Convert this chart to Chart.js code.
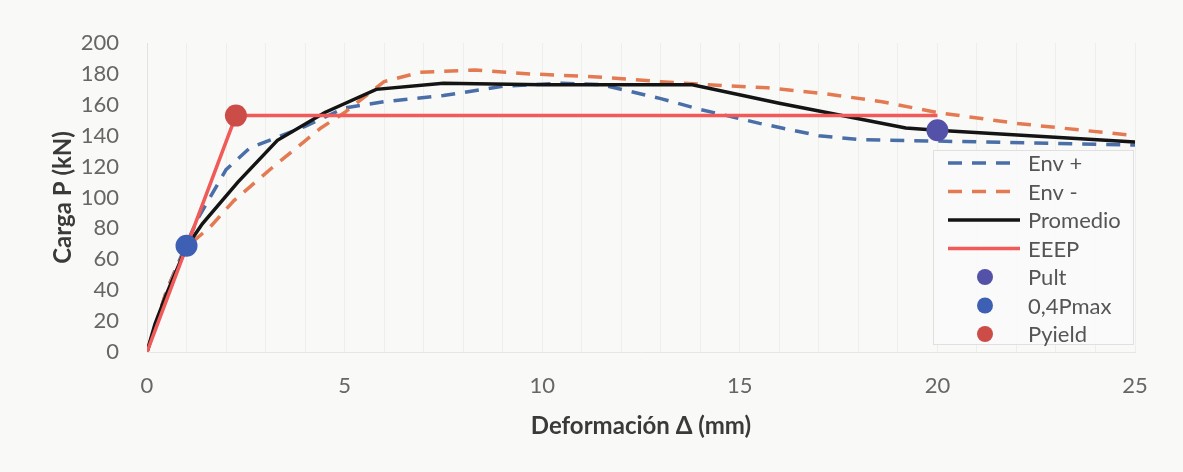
<!DOCTYPE html>
<html>
<head>
<meta charset="utf-8">
<script src="https://cdn.jsdelivr.net/npm/chart.js@4.4.1/dist/chart.umd.min.js"></script>
<style>
  html, body { margin: 0; padding: 0; background: #f9f9f8; }
  #wrap { width: 1183px; height: 472px; }
</style>
</head>
<body>
<div id="wrap"><canvas id="c" width="1183" height="472"></canvas></div>
<script>
// Envelope curves (deformation in mm, load in kN)
const envPosDef  = [0, 0.5, 1.0, 1.3, 2.0, 2.6, 3.3, 4.0, 5.0, 6.0, 7.5, 9.0, 10.5, 11.5, 13.0, 14.0, 15.5, 17.0, 18.0, 20.0, 25.0];
const envPosLoad = [0, 40, 70, 87, 118, 132, 139, 146, 158, 162, 166, 172, 174, 173, 164, 157, 148, 140, 137.5, 136.5, 134];

const envNegDef  = [0, 0.5, 1.0, 1.6, 2.2, 3.2, 4.4, 5.0, 6.0, 6.9, 8.3, 9.7, 11.4, 13.0, 14.2, 15.7, 17.2, 18.6, 20.0, 22.0, 25.0];
const envNegLoad = [0, 40, 68, 81, 98, 120, 145, 155, 175, 181, 182.5, 180, 178, 175, 173, 171, 167, 162, 155, 148, 140];

const avgDef  = [0, 0.2, 0.5, 1.0, 1.4, 2.3, 3.3, 4.5, 5.8, 7.5, 10.0, 12.0, 13.8, 16.0, 19.2, 20.0, 25.0];
const avgLoad = [0, 18, 38, 68, 83, 110, 137, 155, 170, 174, 173, 173, 173, 161, 145, 143.5, 136];

// Equivalent energy elastic-plastic curve
const eeepDef  = [0, 2.25, 20.0];
const eeepLoad = [0, 153, 153];

// Characteristic points
const pultDef = [20.0],  pultLoad = [143.5];
const p04Def  = [1.0],   p04Load  = [68.8];
const pyDef   = [2.25],  pyLoad   = [153];

// Axis ticks
const xTicks = [0, 5, 10, 15, 20, 25];
const yTicks = [0, 20, 40, 60, 80, 100, 120, 140, 160, 180, 200];

const pts = (xs, ys) => xs.map((x, i) => ({ x: x, y: ys[i] }));

const FONT = 'Lato, "Liberation Sans", sans-serif';

// Legend drawn inside the plot, lower right
const legendBox = {
  id: 'legendBox',
  afterDraw(chart) {
    const ctx = chart.ctx;
    const a = chart.chartArea;
    const bx = a.right - 202, by = a.top + 107, bw = 200, bh = 194;
    const rowH = 28.5;
    ctx.save();
    ctx.fillStyle = 'rgba(250,250,249,0.9)';
    ctx.fillRect(bx, by, bw, bh);
    ctx.strokeStyle = '#e0e0e0';
    ctx.lineWidth = 1;
    ctx.strokeRect(bx + 0.5, by + 0.5, bw, bh);
    ctx.font = '22px ' + FONT;
    ctx.textBaseline = 'middle';
    chart.data.datasets.forEach((ds, i) => {
      const cy = by + 13 + i * rowH;
      if (ds.showLine) {
        ctx.beginPath();
        ctx.strokeStyle = ds.borderColor;
        ctx.lineWidth = ds.borderWidth;
        ctx.setLineDash(ds.borderDash || []);
        ctx.moveTo(bx + 15, cy);
        ctx.lineTo(bx + 87, cy);
        ctx.stroke();
        ctx.setLineDash([]);
      } else {
        ctx.beginPath();
        ctx.fillStyle = ds.backgroundColor;
        ctx.arc(bx + 52, cy, 8, 0, Math.PI * 2);
        ctx.fill();
      }
      ctx.fillStyle = '#555555';
      ctx.fillText(ds.label, bx + 95, cy + 1);
    });
    ctx.restore();
  }
};

const lineSet = (label, data, color, dash, order) => ({
  label, data, showLine: true, borderColor: color, borderWidth: 3.5,
  borderDash: dash, pointRadius: 0, pointHoverRadius: 0, tension: 0, order, fill: false
});
const dotSet = (label, data, color, order) => ({
  label, data, showLine: false, backgroundColor: color, borderColor: color,
  pointRadius: 11, pointBorderWidth: 0, order
});

new Chart(document.getElementById('c'), {
  type: 'scatter',
  data: {
    datasets: [
      lineSet('Env +', pts(envPosDef, envPosLoad), '#4a6ea8', [14, 10], 7),
      lineSet('Env -', pts(envNegDef, envNegLoad), '#e47a52', [14, 10], 6),
      lineSet('Promedio', pts(avgDef, avgLoad), '#141414', [], 5),
      lineSet('EEEP', pts(eeepDef, eeepLoad), '#f05a58', [], 4),
      dotSet('Pult', pts(pultDef, pultLoad), '#5452a8', 3),
      dotSet('0,4Pmax', pts(p04Def, p04Load), '#3d5fb4', 2),
      dotSet('Pyield', pts(pyDef, pyLoad), '#cc4c48', 1)
    ]
  },
  options: {
    responsive: false,
    animation: false,
    devicePixelRatio: 1,
    layout: { padding: { left: 0, top: 43, right: 48, bottom: 0 } },
    plugins: { legend: { display: false }, tooltip: { enabled: false } },
    scales: {
      x: {
        type: 'linear', min: 0, max: 25,
        afterBuildTicks: s => { s.ticks = Array.from({ length: 26 }, (_, i) => ({ value: i })); },
        afterFit: s => { s.height = 120; },
        ticks: {
          autoSkip: false, maxRotation: 0, padding: 21,
          font: { family: FONT, size: 22 }, color: '#666666',
          callback: v => xTicks.includes(v) ? String(v) : ''
        },
        grid: { color: 'rgba(0,0,0,0.045)', drawTicks: false },
        border: { display: true, color: '#e6e6e6', width: 1 },
        title: {
          display: true, text: 'Deformación Δ (mm)',
          font: { family: FONT, size: 24, weight: 'bold' }, color: '#3a3a3a',
          padding: { top: 0, bottom: 31 }
        }
      },
      y: {
        type: 'linear', min: 0, max: 200,
        afterBuildTicks: s => { s.ticks = yTicks.map(v => ({ value: v })); },
        afterFit: s => { s.width = 147; },
        ticks: {
          padding: 28, font: { family: FONT, size: 22 }, color: '#666666'
        },
        grid: { display: false, drawTicks: false },
        border: { display: true, color: '#e2e2e2', width: 1 },
        title: {
          display: true, text: 'Carga P (kN)',
          font: { family: FONT, size: 24, weight: 'bold' }, color: '#3a3a3a',
          padding: { top: 49, bottom: 0 }
        }
      }
    }
  },
  plugins: [legendBox]
});
</script>
</body>
</html>
